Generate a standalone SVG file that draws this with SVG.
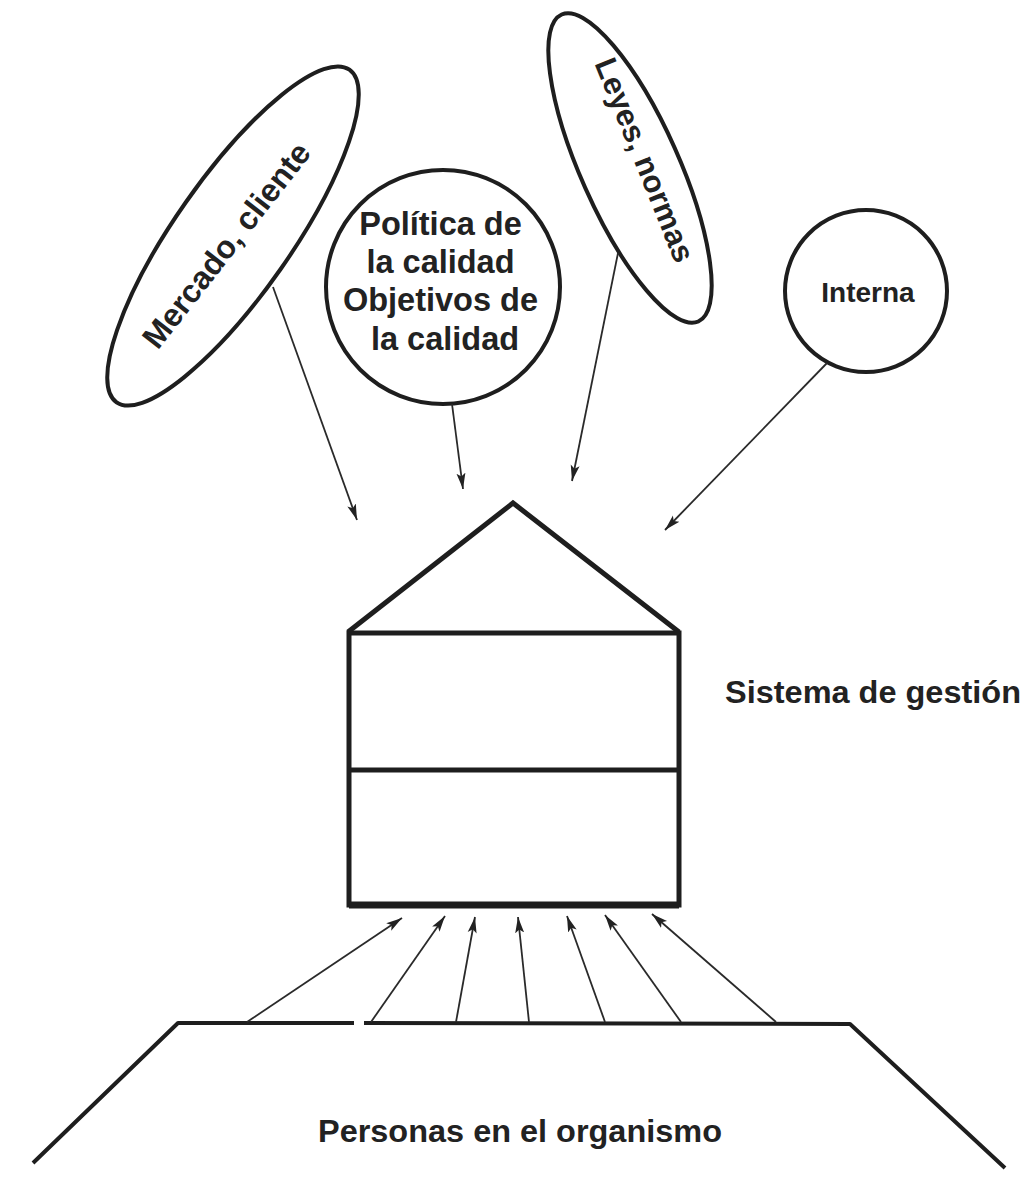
<svg xmlns="http://www.w3.org/2000/svg" width="1029" height="1178" viewBox="0 0 1029 1178">
  <style>
    .shape { fill: none; stroke: #1e1e1e; stroke-width: 4; stroke-linejoin: round; }
    .wall { fill: none; stroke: #1e1e1e; stroke-width: 5; stroke-linejoin: miter; }
    .link { fill: none; stroke: #2a2a2a; stroke-width: 1.8; }
    .label { font-family: "Liberation Sans", Arial, sans-serif; font-weight: bold; fill: #222; }
  </style>
  <defs>
    <marker id="arrow" markerUnits="userSpaceOnUse" markerWidth="17" markerHeight="11" refX="16" refY="5.5" orient="auto">
      <path d="M0,1 L16,5.5 L0,10 L3.5,5.5 Z" fill="#222"/>
    </marker>
  </defs>
  <rect width="1029" height="1178" fill="#fff"/>

  <!-- Influence bubbles -->
  <g id="mercado">
    <ellipse class="shape" cx="233" cy="236" rx="203" ry="58" transform="rotate(-55 233 236)"/>
    <text class="label" font-size="32" text-anchor="middle" x="235" y="252" transform="rotate(-52 235 252)">Mercado, cliente</text>
  </g>
  <g id="politica">
    <circle class="shape" cx="443" cy="287" r="117"/>
    <text class="label" font-size="32.5" text-anchor="middle">
      <tspan x="445" y="235">Política de</tspan>
      <tspan x="445" y="273">la calidad</tspan>
      <tspan x="445" y="311">Objetivos de</tspan>
      <tspan x="445" y="350">la calidad</tspan>
    </text>
  </g>
  <g id="leyes">
    <ellipse class="shape" cx="630" cy="168" rx="168" ry="49" transform="rotate(66 630 168)"/>
    <text class="label" font-size="31" text-anchor="middle" x="635" y="164" transform="rotate(68 635 164)">Leyes, normas</text>
  </g>
  <g id="interna">
    <circle class="shape" cx="866" cy="291" r="81"/>
    <text class="label" font-size="28" text-anchor="middle" x="868" y="302">Interna</text>
  </g>

  <!-- House: management system -->
  <g id="sistema">
    <path class="wall" d="M348,632 L513,503 L679,632"/>
    <rect class="wall" x="349" y="633" width="330" height="272"/>
    <line class="wall" x1="349" y1="770" x2="679" y2="770"/>
    <line x1="349" y1="905" x2="679" y2="905" stroke="#1e1e1e" stroke-width="7"/>
    <text class="label" font-size="32" x="725" y="703" textLength="296" lengthAdjust="spacingAndGlyphs">Sistema de gestión</text>
  </g>

  <!-- Ground: people in the organisation -->
  <g id="personas">
    <path class="shape" stroke-width="3" d="M33,1163 L178,1023 L354,1023"/>
    <path class="shape" stroke-width="3" d="M364,1023 L850,1024 L1005,1168"/>
    <text class="label" font-size="31" x="520" y="1142" text-anchor="middle" textLength="404" lengthAdjust="spacingAndGlyphs">Personas en el organismo</text>
  </g>

  <!-- Connectors -->
  <g id="connectors">
    <line class="link" x1="273" y1="287" x2="357" y2="520" marker-end="url(#arrow)"/>
    <line class="link" x1="452" y1="404" x2="463" y2="489" marker-end="url(#arrow)"/>
    <line class="link" x1="618" y1="253" x2="572" y2="481" marker-end="url(#arrow)"/>
    <line class="link" x1="827" y1="363" x2="665" y2="530" marker-end="url(#arrow)"/>

    <line class="link" x1="247" y1="1022" x2="402" y2="918" marker-end="url(#arrow)"/>
    <line class="link" x1="371" y1="1022" x2="445" y2="916" marker-end="url(#arrow)"/>
    <line class="link" x1="456" y1="1022" x2="475" y2="917" marker-end="url(#arrow)"/>
    <line class="link" x1="529" y1="1022" x2="518" y2="917" marker-end="url(#arrow)"/>
    <line class="link" x1="605" y1="1022" x2="567" y2="916" marker-end="url(#arrow)"/>
    <line class="link" x1="681" y1="1022" x2="605" y2="915" marker-end="url(#arrow)"/>
    <line class="link" x1="776" y1="1022" x2="652" y2="914" marker-end="url(#arrow)"/>
  </g>
</svg>
